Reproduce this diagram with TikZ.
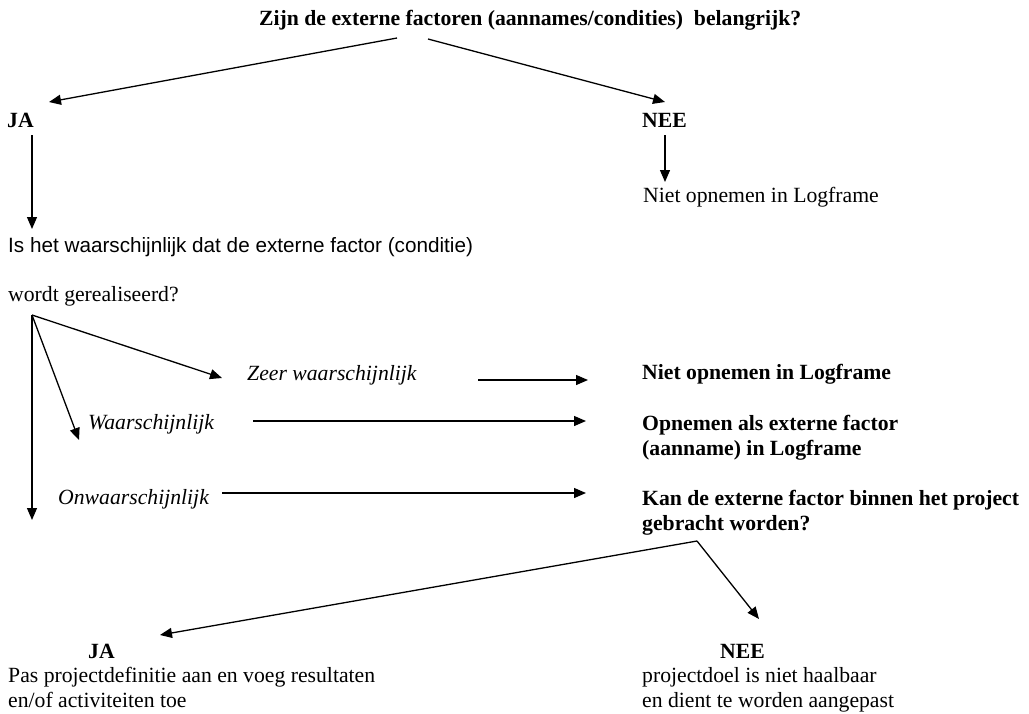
\documentclass[tikz,border=0pt]{standalone}
\usepackage{fontspec}
\setmainfont{Liberation Serif}
\newfontfamily\arialfont{Liberation Sans}
\usetikzlibrary{arrows.meta, calc}

\begin{document}
\begin{tikzpicture}[x=1pt, y=-1pt, every text node part/.style={align=left}]

\tikzstyle{txt}=[anchor=base west, inner sep=0pt, font=\fontsize{21.7}{25}\selectfont]
\tikzstyle{bold}=[txt, font=\fontsize{21.7}{25}\selectfont\bfseries]
\tikzstyle{ital}=[txt, font=\fontsize{21.7}{25}\selectfont\itshape]
\tikzstyle{sans}=[txt, font=\fontsize{20.7}{25}\selectfont\arialfont]
\tikzstyle{arr}=[draw, line width=1.3pt, -{Triangle[length=12pt, width=10pt]}]

\useasboundingbox (0, 0) rectangle (1029, 713);

\node (vraag)    [bold] at (259, 25)  {Zijn de externe factoren (aannames/condities) \ belangrijk?};
\node (ja)       [bold] at (7, 127)   {JA};
\node (nee)      [bold] at (642, 127) {NEE};
\node (nietlog)  [txt]  at (643, 202) {Niet opnemen in Logframe};
\node (kans)     [sans] at (8, 252)   {Is het waarschijnlijk dat de externe factor (conditie)};
\node (gereal)   [txt]  at (8, 301)   {wordt gerealiseerd?};
\node (zeer)     [ital] at (247, 380) {Zeer waarschijnlijk};
\node (waarsch)  [ital] at (88, 429)  {Waarschijnlijk};
\node (onwaar)   [ital] at (58, 504)  {Onwaarschijnlijk};
\node (nietlogb) [bold] at (642, 379) {Niet opnemen in Logframe};
\node (opnemen)  [bold] at (642, 455) {Opnemen als externe factor\\(aanname) in Logframe};
\node (binnen)   [bold] at (642, 530) {Kan de externe factor binnen het project\\gebracht worden?};
\node (jab)      [bold] at (88, 658)  {JA};
\node (pas)      [txt]  at (8, 707)   {Pas projectdefinitie aan en voeg resultaten\\en/of activiteiten toe};
\node (neeb)     [bold] at (720, 658) {NEE};
\node (doel)     [txt]  at (642, 707) {projectdoel is niet haalbaar\\en dient te worden aangepast};

\coordinate (vl) at (397, 38);
\coordinate (vr) at (428, 39);
\coordinate (gs) at (32, 315);
\coordinate (bs) at (697, 541);

\path [arr] (vl) -- (49, 102);
\path [arr] (vr) -- (665, 102);
\path [arr] (32, 135) -- (32, 229);
\path [arr] (665, 135) -- (665, 182);
\path [arr] (gs) -- (222, 378);
\path [arr] (gs) -- (79, 440);
\path [arr] (gs) -- (32, 520);
\path [arr] (478, 380) -- (588, 380);
\path [arr] (253, 421) -- (586, 421);
\path [arr] (222, 493) -- (586, 493);
\path [arr] (bs) -- (160, 635);
\path [arr] (bs) -- (759, 619);
\end{tikzpicture}
\end{document}
